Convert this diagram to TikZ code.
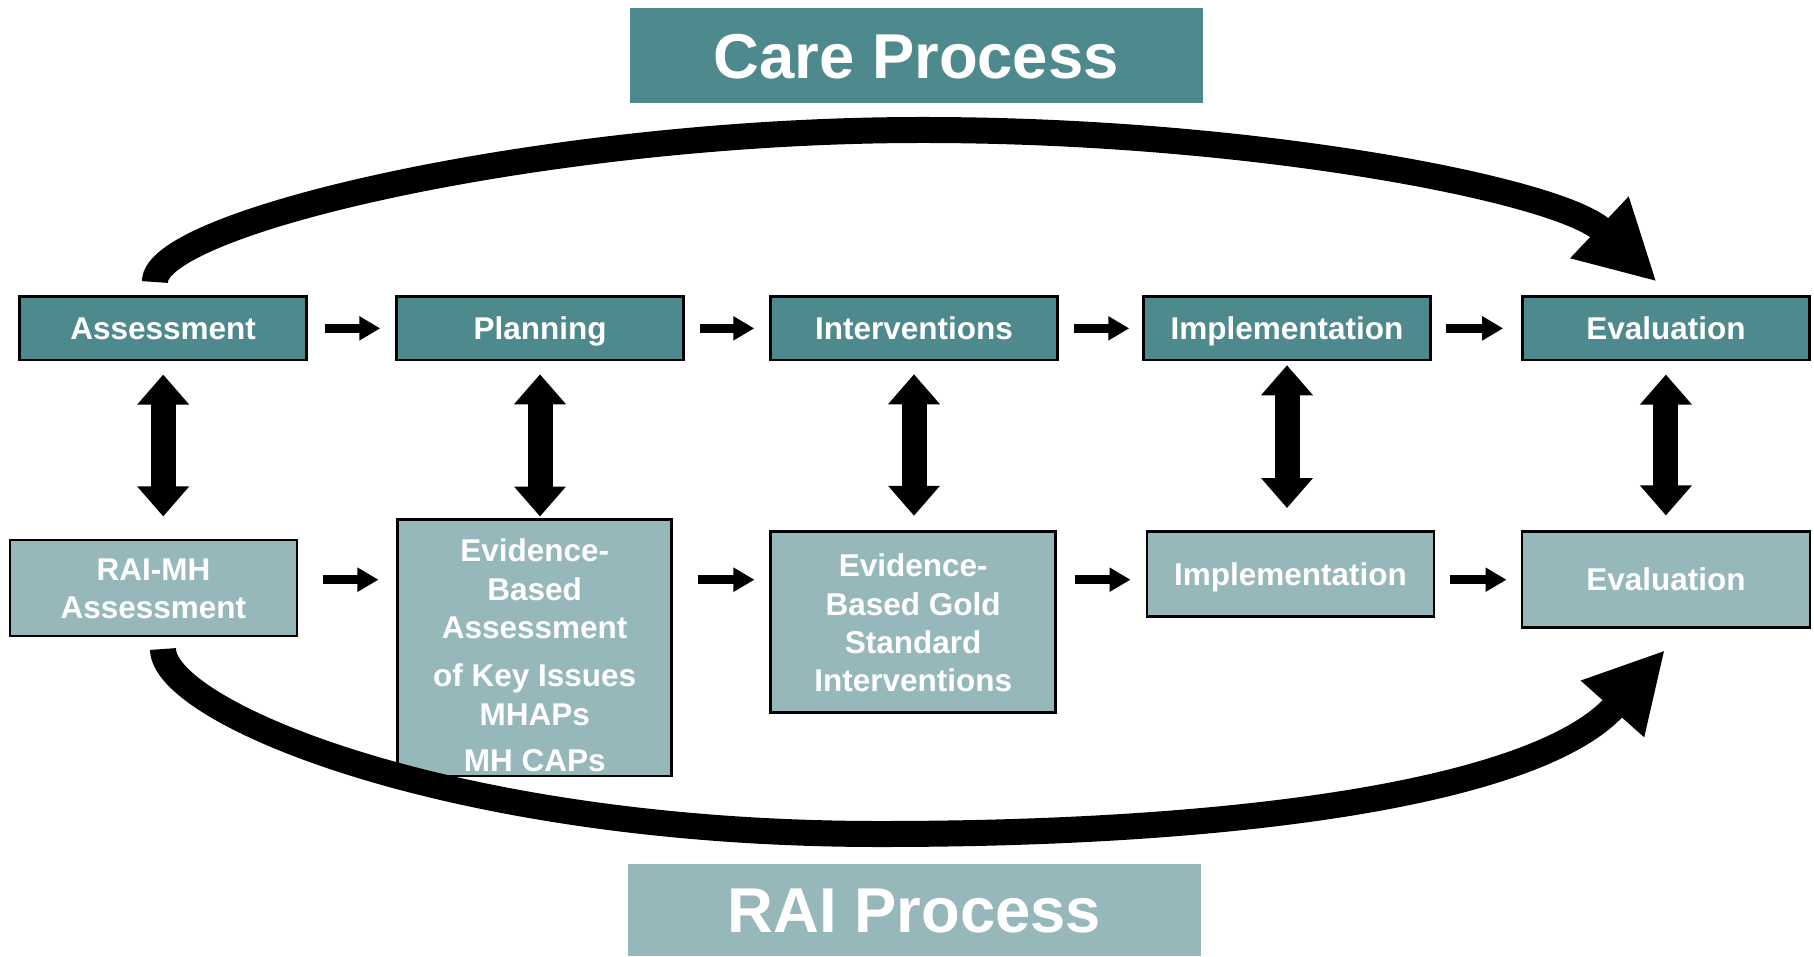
\documentclass[tikz,border=0pt]{standalone}
\usepackage{fontspec}
\setmainfont{Liberation Sans}
\usetikzlibrary{arrows.meta,calc}
\definecolor{darkteal}{RGB}{78,137,141}
\definecolor{lightteal}{RGB}{150,184,187}
\begin{document}
\begin{tikzpicture}[x=1pt,y=-1pt,
  lbl/.style={font=\fontsize{31.5}{38.3}\selectfont\bfseries, text=white},
  one/.style={text height=22.5pt, text depth=0pt},
  multi/.style={align=center, anchor=north, inner sep=0pt},
  topbox/.style={draw=black, line width=2.5pt, fill=darkteal, inner sep=0pt, minimum width=287pt, minimum height=63.3pt},
  botbox/.style={draw=black, line width=2.5pt, fill=lightteal, inner sep=0pt},
  title/.style={font=\fontsize{63.4}{70}\selectfont\bfseries, text=white, inner sep=0pt, text height=45.4pt, text depth=0pt},
  harr/.style={line width=8.5pt, -{Triangle[length=21pt,width=23pt]}},
  dbl/.style={line width=25pt, {Triangle[length=30pt,width=50pt]}-{Triangle[length=30pt,width=50pt]}},
  big/.style={line width=26pt, -{Triangle[length=79pt,width=79pt]}},
]
\useasboundingbox (0,0) rectangle (1814,956);

% titles
\node[title, fill=darkteal, minimum width=573pt, minimum height=95pt] (care) at (916.2,55.5) {Care Process};
\node[title, fill=lightteal, minimum width=573pt, minimum height=92pt] (rai) at (914.5,910) {RAI Process};

% top row
\node[topbox, lbl, one] (A1) at (163.2,328.35) {Assessment};
\node[topbox, lbl, one] (A2) at (540,328.35) {Planning};
\node[topbox, lbl, one] (A3) at (914,328.35) {Interventions};
\node[topbox, lbl, one] (A4) at (1287,328.35) {Implementation};
\node[topbox, lbl, one] (A5) at (1665.9,328.35) {Evaluation};

% bottom row
\node[botbox, minimum width=286.8pt, minimum height=96pt] (B1) at (153.4,588) {};
\node[botbox, minimum width=274pt, minimum height=256.7pt] (B2) at (534.7,647.7) {};
\node[botbox, minimum width=285pt, minimum height=180.6pt] (B3) at (913.2,622) {};
\node[botbox, lbl, one, minimum width=287.3pt, minimum height=85pt] (B4) at (1290.4,574.2) {Implementation};
\node[botbox, lbl, one, minimum width=288.3pt, minimum height=96pt] (B5) at (1665.9,579.7) {Evaluation};

\node[lbl, multi] (B1t) at (153.4,555) {\rule{0pt}{25pt}RAI-MH\\Assessment};
\node[lbl, multi] (B2t) at (534.7,536.7) {\rule{0pt}{25pt}Evidence-\\Based\\Assessment\\[10.1pt]of Key Issues\\MHAPs\\[8.4pt]MH CAPs};
\node[lbl, multi] (B3t) at (913.2,551.7) {\rule{0pt}{25pt}Evidence-\\Based Gold\\Standard\\Interventions};

% horizontal arrows, top
\draw[harr, shorten <=17pt, shorten >=15pt] (A1.east) -- (A2.west);
\draw[harr, shorten <=15pt, shorten >=15pt] (A2.east) -- (A3.west);
\draw[harr, shorten <=15pt, shorten >=13pt] (A3.east) -- (A4.west);
\draw[harr, shorten <=14pt, shorten >=18pt] (A4.east) -- (A5.west);

% horizontal arrows, bottom
\draw[harr, shorten <=25pt, shorten >=18pt] (B1.east |- B5.center) -- (B2.west |- B5.center);
\draw[harr, shorten <=25pt, shorten >=15pt] (B2.east |- B5.center) -- (B3.west |- B5.center);
\draw[harr, shorten <=18pt, shorten >=15pt] (B3.east |- B5.center) -- (B4.west |- B5.center);
\draw[harr, shorten <=15pt, shorten >=14pt] (B4.east |- B5.center) -- (B5.west |- B5.center);

% vertical double arrows
\draw[dbl, shorten <=13.3pt, shorten >=22.3pt] (A1.south) -- (A1.south |- B1.north);
\draw[dbl, shorten <=13pt, shorten >=1.6pt] (A2.south) -- (A2.south |- B2.north);
\draw[dbl, shorten <=13pt, shorten >=14.7pt] (A3.south) -- (A3.south |- B3.north);
\draw[dbl, shorten <=4pt, shorten >=22.4pt] (A4.south) -- (A4.south |- B4.north);
\draw[dbl, shorten <=13.3pt, shorten >=15pt] (A5.south) -- (A5.south |- B5.north);

% big curved arrows
\coordinate (ts) at (155,282);
\coordinate (te) at (1656.7,281.7);
\coordinate (bs) at (163,649);
\coordinate (be) at (1665,650);
\draw[big] (ts) .. controls (153,222) and (545,131) .. (915,130)
  .. controls (1250,129) and (1560,190) .. (te);
\draw[big] (bs) .. controls (163,712) and (450,834) .. (880,834)
  .. controls (1250,834) and (1540,790) .. (be);
\end{tikzpicture}
\end{document}
